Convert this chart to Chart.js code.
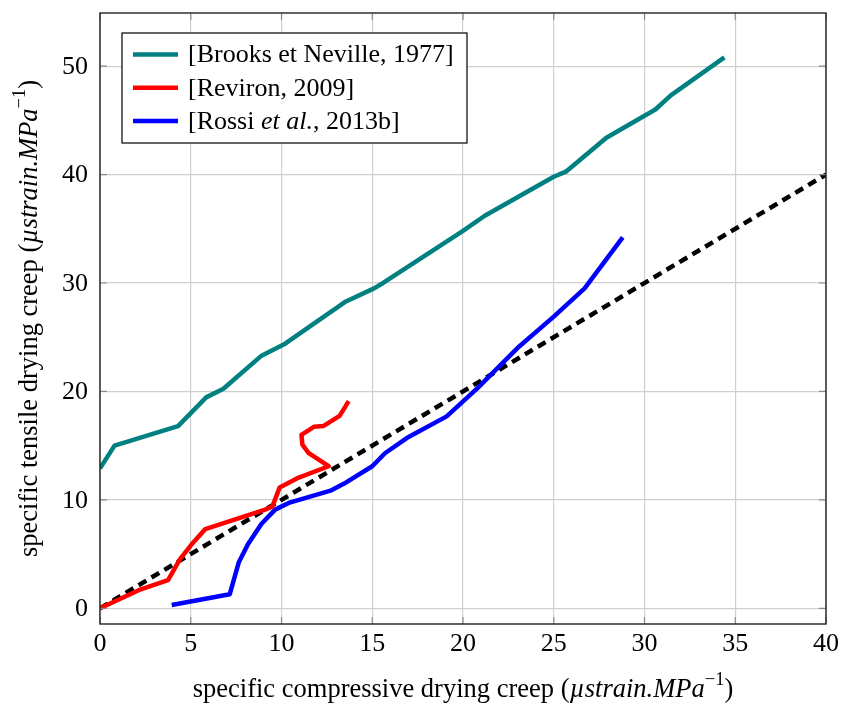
<!DOCTYPE html>
<html>
<head>
<meta charset="utf-8">
<script src="https://cdn.jsdelivr.net/npm/chart.js@4"></script>
<style>
  html, body { margin: 0; padding: 0; background: #fff; }
  #wrap { width: 842px; height: 704px; }
</style>
</head>
<body>
<div id="wrap"><canvas id="creepChart" width="842" height="704"></canvas></div>
<script>
// values
const brooksX = [0, 0.8, 4.3, 5.85, 6.8, 8.9, 10.2, 13.55, 15.1, 15.6, 20.0, 21.2, 25.0, 25.7, 27.9, 30.6, 31.45, 34.4];
const brooksY = [12.9, 15.0, 16.8, 19.45, 20.25, 23.3, 24.4, 28.3, 29.5, 30.0, 34.8, 36.2, 39.8, 40.3, 43.4, 46.0, 47.3, 50.8];

const revironX = [0, 2.25, 3.75, 4.4, 5.05, 5.8, 9.1, 9.5, 9.9, 10.95, 12.6, 11.5, 11.15, 11.1, 11.8, 12.3, 13.2, 13.7];
const revironY = [0, 1.75, 2.6, 4.5, 5.9, 7.3, 9.1, 9.4, 11.15, 12.05, 13.1, 14.3, 15.1, 16.0, 16.75, 16.8, 17.75, 19.1];

const rossiX = [3.95, 7.15, 7.65, 8.15, 8.9, 9.65, 10.45, 12.7, 13.45, 15.0, 15.7, 16.9, 19.1, 20.8, 23.0, 25.0, 26.7, 28.8];
const rossiY = [0.3, 1.3, 4.25, 5.9, 7.8, 9.1, 9.75, 10.85, 11.5, 13.1, 14.3, 15.7, 17.7, 20.3, 24.0, 26.9, 29.5, 34.2];

const refX = [0, 40];
const refY = [0, 40];

const xTicks = [0, 5, 10, 15, 20, 25, 30, 35, 40];
const yTicks = [0, 10, 20, 30, 40, 50];

// legend labels, split so that "et al." can be set in italics
const brooksLabel = [['[Brooks et Neville, 1977]', false]];
const revironLabel = [['[Reviron, 2009]', false]];
const rossiLabel = [['[Rossi ', false], ['et al.', true], [', 2013b]', false]];

const SERIF = '"Liberation Serif", "DejaVu Serif", serif';

function toPoints(xs, ys) {
    return xs.map((x, i) => ({ x: x, y: ys[i] }));
}

function drawParts(ctx, parts, x, y, size) {
    // parts: [text, italic, superscript]
    parts.forEach(p => {
        const s = p[2] ? size * 0.7 : size;
        ctx.font = (p[1] ? 'italic ' : '') + s + 'px ' + SERIF;
        ctx.fillText(p[0], x, p[2] ? y - size * 0.38 : y);
        x += ctx.measureText(p[0]).width;
    });
}

function partsWidth(ctx, parts, size) {
    let w = 0;
    parts.forEach(p => {
        const s = p[2] ? size * 0.7 : size;
        ctx.font = (p[1] ? 'italic ' : '') + s + 'px ' + SERIF;
        w += ctx.measureText(p[0]).width;
    });
    return w;
}

const xTitle = [['specific compressive drying creep (', false], ['\u00b5strain.MPa', true], ['\u22121', false, true], [')', false]];
const yTitle = [['specific tensile drying creep (', false], ['\u00b5strain.MPa', true], ['\u22121', false, true], [')', false]];

// frame, inner ticks, tick labels, axis titles and the boxed legend
const decorPlugin = {
    id: 'decor',
    afterDatasetsDraw(chart) {
        const ctx = chart.ctx;
        const a = chart.chartArea;
        const xs = chart.scales.x, ys = chart.scales.y;
        ctx.save();
        ctx.strokeStyle = '#8c8c8c';
        ctx.lineWidth = 1.2;
        ctx.beginPath();
        xTicks.forEach(v => {
            const px = xs.getPixelForValue(v);
            ctx.moveTo(px, a.bottom); ctx.lineTo(px, a.bottom - 7);
            ctx.moveTo(px, a.top); ctx.lineTo(px, a.top + 7);
        });
        yTicks.forEach(v => {
            const py = ys.getPixelForValue(v);
            ctx.moveTo(a.left, py); ctx.lineTo(a.left + 7, py);
            ctx.moveTo(a.right, py); ctx.lineTo(a.right - 7, py);
        });
        ctx.stroke();

        ctx.strokeStyle = '#222';
        ctx.lineWidth = 1.4;
        ctx.strokeRect(a.left, a.top, a.right - a.left, a.bottom - a.top);

        // tick labels
        ctx.fillStyle = '#000';
        ctx.font = '26px ' + SERIF;
        ctx.textAlign = 'center';
        ctx.textBaseline = 'middle';
        xTicks.forEach(v => ctx.fillText(String(v), xs.getPixelForValue(v), a.bottom + 20));
        ctx.textAlign = 'right';
        yTicks.forEach(v => ctx.fillText(String(v), a.left - 12, ys.getPixelForValue(v) + 1));
        ctx.textAlign = 'left';

        // legend
        const lx = 122, ly = 33, lw = 345, lh = 110;
        ctx.fillStyle = '#fff';
        ctx.fillRect(lx, ly, lw, lh);
        ctx.strokeStyle = '#000';
        ctx.lineWidth = 1.2;
        ctx.strokeRect(lx, ly, lw, lh);
        const labels = [brooksLabel, revironLabel, rossiLabel];
        labels.forEach((lab, i) => {
            const ds = chart.data.datasets[i];
            const ry = 54.5 + i * 33.3;
            ctx.strokeStyle = ds.borderColor;
            ctx.lineWidth = 4.5;
            ctx.beginPath();
            ctx.moveTo(133, ry); ctx.lineTo(178, ry);
            ctx.stroke();
            ctx.fillStyle = '#000';
            drawParts(ctx, lab, 188, ry + 1, 26);
        });

        // axis titles
        const cx = (a.left + a.right) / 2;
        const w = partsWidth(ctx, xTitle, 26.5);
        drawParts(ctx, xTitle, cx - w / 2, 690, 26.5);

        const cy = (a.top + a.bottom) / 2;
        const wy = partsWidth(ctx, yTitle, 26.5);
        ctx.translate(30, cy);
        ctx.rotate(-Math.PI / 2);
        drawParts(ctx, yTitle, -wy / 2, 0, 26.5);
        ctx.restore();
    }
};

const lineStyle = { showLine: true, pointRadius: 0, borderWidth: 4.5, fill: false, tension: 0 };

new Chart(document.getElementById('creepChart').getContext('2d'), {
    type: 'scatter',
    data: {
        datasets: [
            Object.assign({ label: 'Brooks et Neville, 1977', data: toPoints(brooksX, brooksY), borderColor: '#008080', borderJoinStyle: 'round' }, lineStyle),
            Object.assign({ label: 'Reviron, 2009', data: toPoints(revironX, revironY), borderColor: '#ff0000', borderJoinStyle: 'round' }, lineStyle),
            Object.assign({ label: 'Rossi et al., 2013b', data: toPoints(rossiX, rossiY), borderColor: '#0000ff', borderJoinStyle: 'round' }, lineStyle),
            Object.assign({ label: 'y = x', data: toPoints(refX, refY), borderColor: '#000', borderDash: [9, 6] }, lineStyle)
        ]
    },
    options: {
        responsive: false,
        animation: false,
        layout: { padding: { left: 0, right: 16, top: 13, bottom: 0 } },
        plugins: { legend: { display: false }, tooltip: { enabled: false } },
        scales: {
            x: {
                type: 'linear',
                min: 0, max: 40,
                afterBuildTicks: s => { s.ticks = xTicks.map(v => ({ value: v })); },
                afterFit: s => { s.height = 80; },
                grid: { color: '#cfcfcf', lineWidth: 1.2, drawTicks: false },
                border: { display: false },
                ticks: { display: false }
            },
            y: {
                type: 'linear',
                min: -1.45, max: 54.9,
                afterBuildTicks: s => { s.ticks = yTicks.map(v => ({ value: v })); },
                afterFit: s => { s.width = 100; },
                grid: { color: '#cfcfcf', lineWidth: 1.2, drawTicks: false },
                border: { display: false },
                ticks: { display: false }
            }
        }
    },
    plugins: [decorPlugin]
});
</script>
</body>
</html>
